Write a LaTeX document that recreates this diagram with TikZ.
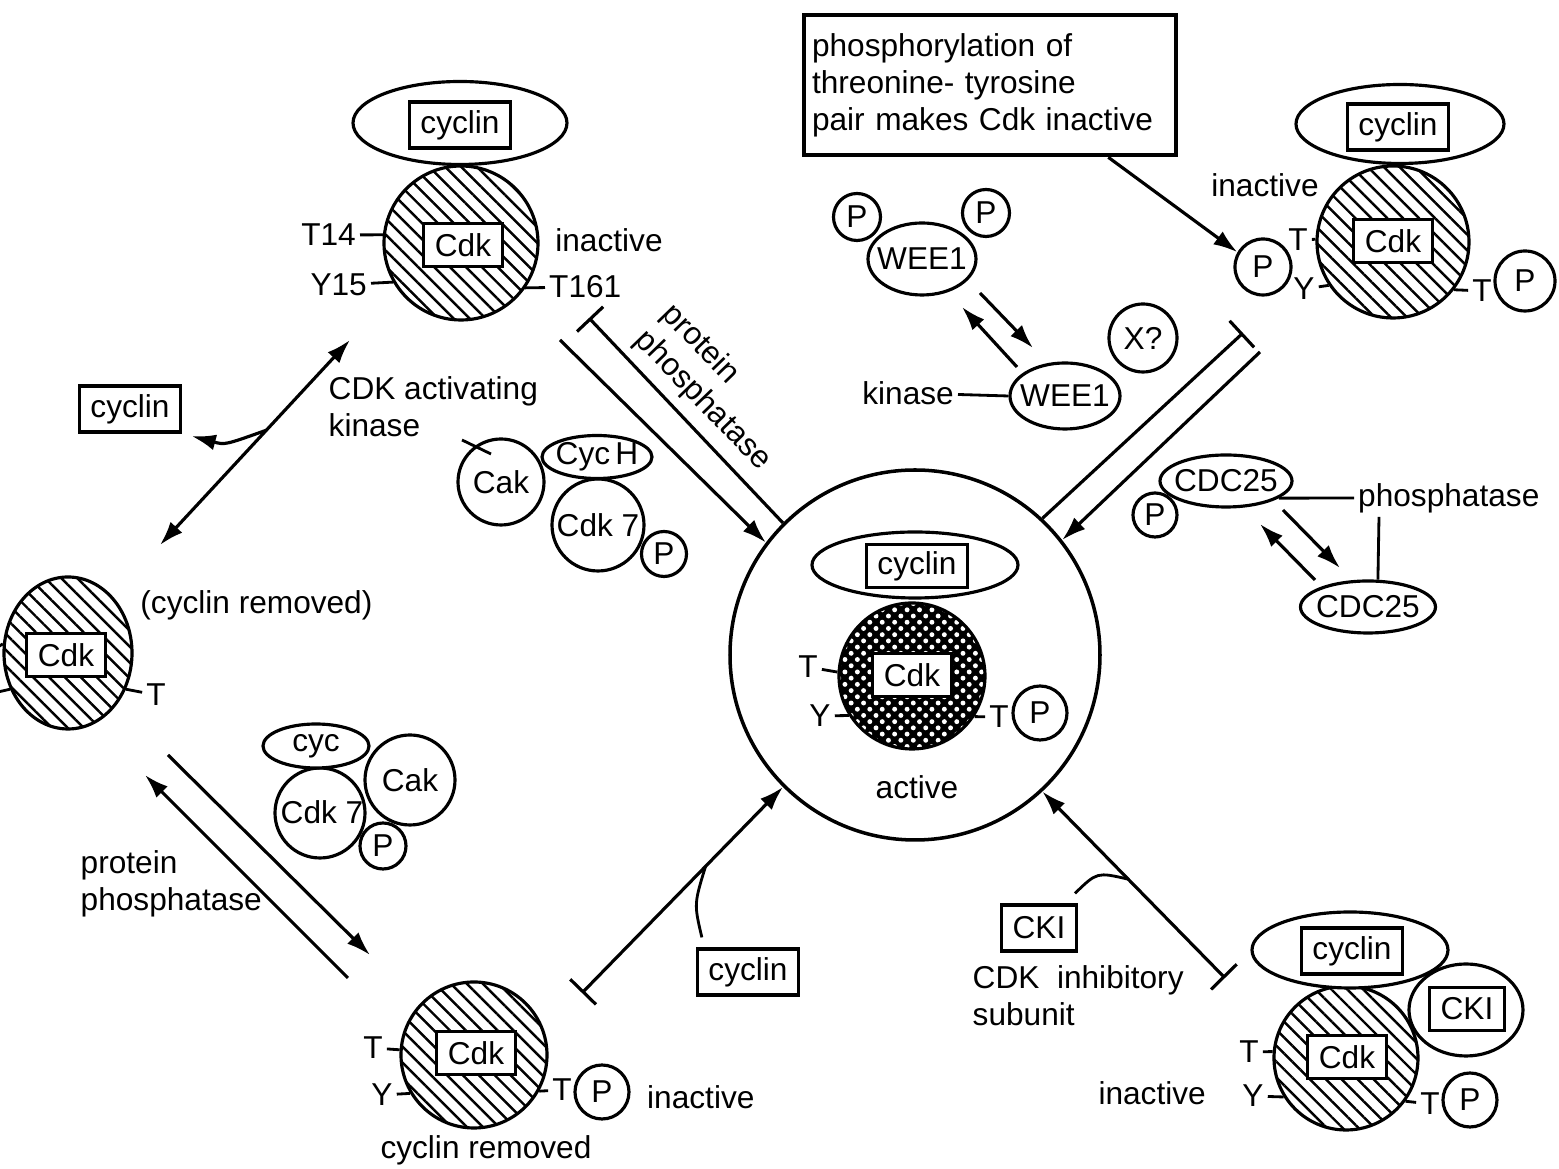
\documentclass[tikz,border=0pt]{standalone}
\usepackage{fontspec}
\setmainfont{Liberation Sans}
\usetikzlibrary{shapes.geometric,arrows.meta,patterns.meta,calc}
\begin{document}
\begin{tikzpicture}[x=0.1mm,y=-0.1mm]
\tikzset{
  every node/.style={font=\fontsize{9}{10.5}\selectfont},
  hatch/.style={draw,line width=0.9pt,inner sep=0pt,
    pattern={Lines[angle=-45,distance=3.2pt,line width=0.7pt]}},
  meshed/.style={circle,draw,line width=0.9pt,inner sep=0pt,preaction={fill=black},
    pattern={Dots[angle=45,distance=2.5pt,radius=0.7pt]},pattern color=white},
  lbox/.style={draw,fill=white,line width=0.9pt,inner xsep=1.1mm,inner ysep=0pt,minimum height=4.3mm},
  oval/.style 2 args={ellipse,draw,fill=white,line width=0.9pt,inner sep=0pt,minimum width=#1,minimum height=#2},
  ball/.style={circle,draw,fill=white,line width=0.9pt,inner sep=0pt,minimum size=#1},
  pc/.style={circle,draw,fill=white,line width=0.9pt,inner sep=0pt,minimum size=#1},
  pc/.default=5.4mm,
  site/.style={inner sep=1pt},
  stub/.style={line width=0.8pt},
  prod/.style={line width=0.9pt,-{Latex[length=2.4mm,width=1.6mm]}},
  twoway/.style={line width=0.9pt,{Latex[length=2.4mm,width=1.6mm]}-{Latex[length=2.4mm,width=1.6mm]}},
  block/.style={line width=0.9pt,-{Bar[width=3.6mm]}},
  blockprod/.style={line width=0.9pt,{Bar[width=3.6mm]}-{Latex[length=2.4mm,width=1.6mm]}},
}
\useasboundingbox (0,0) rectangle (1559,1169);

% active complex in the middle
\node[circle,draw,line width=1pt,minimum size=37mm] (act) at (915,655) {};
\node[meshed,minimum size=14.6mm] (cdkC) at (912,676) {};
\node[lbox] (cdkCt) at (912,675) {Cdk};
\node[oval={20.6mm}{6.6mm}] (cycC) at (915,565) {};
\node[lbox] (cycCt) at (917,566) {cyclin};
\node[site] (tC1) at (808,667) {T};
\node[site] (yC) at (820,716) {Y};
\node[site] (tC2) at (999,717) {T};
\node[pc] (pCc) at (1040,713) {P};
\node (actt) at (917,787) {active};
\draw[stub] (tC1) -- (cdkC.177);
\draw[stub] (yC) -- (cdkC.212);
\draw[stub] (tC2) -- (cdkC.-33);

% top left: T14/Y15 phosphorylated
\node[hatch,circle,minimum size=15.4mm] (cdkA) at (461,243) {};
\node[lbox] (cdkAt) at (463,245) {Cdk};
\node[oval={21.4mm}{8.3mm}] (cycA) at (460,123) {};
\node[lbox,minimum height=4.6mm] (cycAt) at (460,125) {cyclin};
\node[site,anchor=east] (t14) at (360,235) {T14};
\node[site,anchor=east] (y15) at (371,285) {Y15};
\node[site,anchor=west] (t161) at (545,287) {T161};
\node (inA) at (609,240) {inactive};
\draw[stub] (t14) -- (cdkA.174);
\draw[stub] (y15) -- (cdkA.210);
\draw[stub] (t161) -- (cdkA.-35);

\coordinate (barA) at (589,318);
\coordinate (srcA) at (560,340);
\draw[block] (act.135) -- (barA);
\draw[prod] (srcA) -- (act.143);
\node[rotate=-46,align=left] (ppA) at (716,388) {protein\\phosphatase};

% CDK activating kinase
\node[align=left,anchor=north west,inner sep=0pt] (cakl) at (328,376) {CDK activating\\kinase};
\node[ball=9.2mm] (cdk7) at (598,525) {};
\node (cdk7t) at (cdk7) {Cdk 7};
\node[oval={11mm}{4.3mm}] (cych) at (597,457) {};
\node (cycht) at (cych) {Cyc\,H};
\node[ball=8.6mm] (cak) at (501,482) {Cak};
\node[pc=4.5mm] (pK) at (664,554) {P};
\coordinate (cakf) at (462,440);
\draw[stub] (cakf) -- ($(cak.center)+(-10,-28)$);

% phosphorylation note
\node[draw,line width=1.3pt,align=left,text width=35.6mm,inner xsep=0.8mm,minimum height=14mm] (note) at (990,85)
  {\hyphenpenalty=10000 phosphorylation of\\threonine- tyrosine\\pair makes Cdk inactive};

% top right: inactive
\node[hatch,circle,minimum size=15.2mm] (cdkB) at (1393,242) {};
\node[lbox] (cdkBt) at (1393,241) {Cdk};
\node[oval={20.8mm}{7.9mm}] (cycB) at (1400,124) {};
\node[lbox,minimum height=4.6mm] (cycBt) at (1398,127) {cyclin};
\node (inB) at (1265,185) {inactive};
\node[pc=5.6mm] (pB1) at (1263,267) {P};
\node[pc=6mm] (pB2) at (1525,281) {P};
\node[site] (tB1) at (1298,240) {T};
\node[site] (yB) at (1304,289) {Y};
\node[site] (tB2) at (1482,291) {T};
\draw[stub] (tB1) -- (cdkB.178);
\draw[stub] (yB) -- (cdkB.214);
\draw[stub] (tB2) -- (cdkB.-38);
\draw[prod] ($(note.south east)+(-70,0)$) -- (pB1.150);

\coordinate (barB) at (1243,333);
\coordinate (srcB) at (1260,352);
\draw[block] (act.47) -- (barB);
\draw[prod] (srcB) -- (act.38);

% WEE1
\node[oval={10.8mm}{7.2mm}] (weeA) at (922,259) {};
\node (weeAt) at (weeA) {WEE1};
\node[pc=4.7mm] (pW1) at (857,217) {P};
\node[pc=4.7mm] (pW2) at (986,213) {P};
\node[oval={11mm}{6.6mm}] (weeB) at (1065,396) {};
\node (weeBt) at (weeB) {WEE1};
\node[anchor=east,inner sep=1pt] (kin) at (958,393) {kinase};
\draw[stub] (kin) -- (weeB.west);
\coordinate (w1) at (980,293);
\coordinate (w2) at (1033,348);
\coordinate (w3) at (1017,367);
\coordinate (w4) at (962,307);
\draw[prod] (w1) -- (w2);
\draw[prod] (w3) -- (w4);
\node[pc=6.8mm] (xq) at (1143,338) {X?};

% CDC25
\node[oval={13.2mm}{5.2mm}] (cdcA) at (1226,481) {};
\node (cdcAt) at (cdcA) {CDC25};
\node[pc=4.4mm] (pC) at (1155,515) {P};
\node[oval={13.5mm}{5.2mm}] (cdcB) at (1368,607) {};
\node (cdcBt) at (cdcB) {CDC25};
\node[anchor=west,inner sep=1pt] (phos) at (1354,498) {phosphatase};
\draw[stub] (cdcA.-18) -- (phos.west);
\draw[stub] ($(phos.south west)+(25,0)$) -- (cdcB.70);
\coordinate (c1) at (1283,510);
\coordinate (c2) at (1340,568);
\coordinate (c3) at (1315,580);
\coordinate (c4) at (1260,524);
\draw[prod] (c1) -- (c2);
\draw[prod] (c3) -- (c4);

% left: cyclin removed
\node[lbox,minimum height=4.6mm] (cycD) at (130,409) {cyclin};
\coordinate (upA) at (350,340);
\coordinate (dnA) at (160,545);
\draw[twoway] (dnA) -- (upA);
\coordinate (jA) at ($(upA)!0.44!(dnA)$);
\draw[prod,shorten >=1mm] (jA) .. controls (225,445) .. (cycD.south east);

\node[hatch,ellipse,minimum width=12.8mm,minimum height=15.2mm] (cdkD) at (68,653) {};
\node[lbox] (cdkDt) at (66,655) {Cdk};
\node[anchor=west] (crm) at (128,605) {(cyclin removed)};
\node[site] (tD) at (156,695) {T};
\coordinate (eD1) at (-2,647);
\coordinate (eD2) at (-2,692);
\draw[stub] (eD1) -- (cdkD.172);
\draw[stub] (eD2) -- (cdkD.212);
\draw[stub] (tD) -- (cdkD.-32);

% bottom left: CAK and phosphatase
\node[ball=9mm] (cdk7b) at (320,813) {};
\node (cdk7bt) at (322,812) {Cdk 7};
\node[oval={10.6mm}{4.4mm}] (cycE) at (316,746) {cyc};
\node[ball=9mm] (cakb) at (410,780) {Cak};
\node[pc=4.6mm] (pKb) at (383,846) {P};
\coordinate (a1) at (168,755);
\coordinate (a2) at (370,955);
\coordinate (b1) at (348,978);
\coordinate (b2) at (145,775);
\draw[prod] (a1) -- (a2);
\draw[prod] (b1) -- (b2);
\node[align=left,anchor=north west,inner sep=0pt] (ppB) at (80,850) {protein\\phosphatase};

% bottom: T161 phosphorylated, cyclin removed
\node[hatch,circle,minimum size=14.6mm] (cdkE) at (474,1055) {};
\node[lbox] (cdkEt) at (476,1053) {Cdk};
\node[site] (tE1) at (373,1048) {T};
\node[site] (yE) at (382,1095) {Y};
\node[site] (tE2) at (562,1090) {T};
\node[pc] (pE) at (602,1092) {P};
\node[anchor=west,inner sep=1pt] (inE) at (643,1097) {inactive};
\node (crmE) at (486,1150) {cyclin removed};
\draw[stub] (tE1) -- (cdkE.176);
\draw[stub] (yE) -- (cdkE.211);
\draw[stub] (tE2) -- (cdkE.-29);

\coordinate (barE) at (582,993);
\draw[blockprod] (barE) -- (act.225);
\node[lbox,minimum height=4.6mm] (cycF) at (748,972) {cyclin};
\coordinate (jE) at ($(barE)!0.615!(act.225)$);
\draw[stub] ([xshift=0.6mm,yshift=1mm]cycF.north west) .. controls (694,904) .. (jE);

% bottom right: CKI bound
\coordinate (barF) at (1225,978);
\draw[blockprod] (barF) -- (act.313);
\node[lbox,minimum height=4.6mm] (ckiA) at (1039,928) {CKI};
\coordinate (jF) at ($(barF)!0.53!(act.313)$);
\draw[stub] ([yshift=1mm,xshift=-0.3mm]ckiA.north east) .. controls (1097,872) .. (jF);
\node[align=left,anchor=north west,inner sep=0pt] (ckiL) at (972,965) {CDK\ \ inhibitory\\subunit};

\node[hatch,circle,minimum size=14.4mm] (cdkF) at (1346,1058) {};
\node[lbox] (cdkFt) at (1347,1057) {Cdk};
\node[oval={19.6mm}{7.6mm}] (cycG) at (1350,950) {};
\node[lbox,minimum height=4.6mm] (cycGt) at (1352,951) {cyclin};
\node[oval={11.4mm}{9.2mm}] (ckiB) at (1466,1010) {};
\node[lbox] (ckiBt) at (1467,1009) {CKI};
\node[site] (tF1) at (1249,1052) {T};
\node[site] (yF) at (1253,1096) {Y};
\node[site] (tF2) at (1430,1104) {T};
\node[pc] (pF) at (1470,1100) {P};
\node[anchor=east,inner sep=1pt] (inF) at (1210,1093) {inactive};
\draw[stub] (tF1) -- (cdkF.175);
\draw[stub] (yF) -- (cdkF.212);
\draw[stub] (tF2) -- (cdkF.-36);
\end{tikzpicture}
\end{document}
